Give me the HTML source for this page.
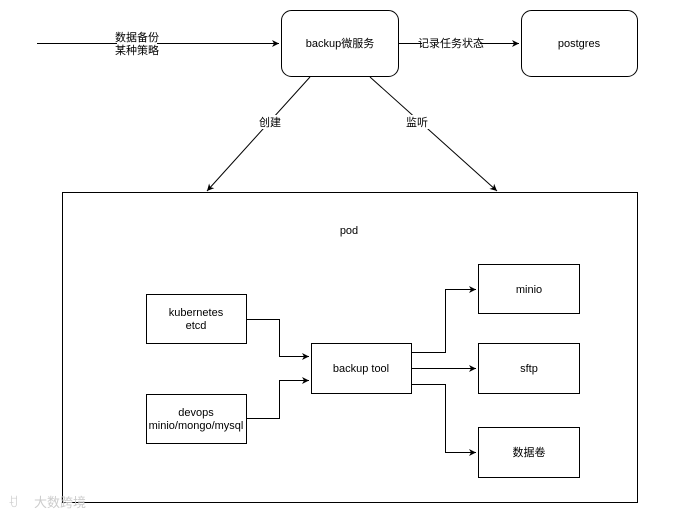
<!DOCTYPE html>
<html><head><meta charset="utf-8"><style>
body{margin:0;background:#fff;}
svg text{font-family:"Liberation Sans","Noto Sans CJK SC",sans-serif;font-size:11px;fill:#000;}
</style></head><body>
<svg width="690" height="517" viewBox="0 0 690 517" xmlns="http://www.w3.org/2000/svg">
<defs><marker id="a" markerWidth="8" markerHeight="8" refX="7" refY="4" orient="auto" markerUnits="userSpaceOnUse"><path d="M0,0.5 L7,4 L0,7.5 L2,4 z" fill="#000"/></marker></defs>
<g fill="none" stroke="#000" stroke-width="1">
<rect x="281.5" y="10.5" width="117" height="66" rx="10"/>
<rect x="521.5" y="10.5" width="116" height="66" rx="10"/>
<rect x="62.5" y="192.5" width="575" height="310"/>
<rect x="146.5" y="294.5" width="100" height="49"/>
<rect x="146.5" y="394.5" width="100" height="49"/>
<rect x="311.5" y="343.5" width="100" height="50"/>
<rect x="478.5" y="264.5" width="101" height="49"/>
<rect x="478.5" y="343.5" width="101" height="50"/>
<rect x="478.5" y="427.5" width="101" height="50"/>
<path d="M37,43.5 H279" marker-end="url(#a)"/>
<path d="M398,43.5 H519" marker-end="url(#a)"/>
<path d="M310,77 L207,191" marker-end="url(#a)"/>
<path d="M370,77 L497,191" marker-end="url(#a)"/>
<path d="M246,319.5 H279.5 V356.5 H309" marker-end="url(#a)"/>
<path d="M246,418.5 H279.5 V380.5 H309" marker-end="url(#a)"/>
<path d="M411,352.5 H445.5 V289.5 H476" marker-end="url(#a)"/>
<path d="M411,368.5 H476" marker-end="url(#a)"/>
<path d="M411,384.5 H445.5 V452.5 H476" marker-end="url(#a)"/>
</g>
<g fill="#fff"><rect x="117" y="31" width="40" height="26"/><rect x="422" y="36" width="58" height="14"/><rect x="258" y="115" width="24" height="14"/><rect x="405" y="115" width="24" height="14"/></g>
<g text-anchor="middle">
<text x="137" y="41">数据备份</text><text x="137" y="54">某种策略</text>
<text x="451" y="47">记录任务状态</text>
<text x="270" y="126">创建</text><text x="417" y="126">监听</text>
<text x="340" y="47">backup微服务</text>
<text x="579" y="47">postgres</text>
<text x="349" y="234">pod</text>
<text x="196" y="316">kubernetes</text><text x="196" y="329">etcd</text>
<text x="196" y="416">devops</text><text x="196" y="429">minio/mongo/mysql</text>
<text x="361" y="372">backup tool</text>
<text x="529" y="293">minio</text>
<text x="529" y="372">sftp</text>
<text x="529" y="456">数据卷</text>
</g>
<text x="34" y="507" style="font-size:13px;fill:#ccc">大数跨境</text>
<text x="8" y="507" style="font-size:13px;fill:#ccc">ꀀ</text>
</svg>
</body></html>
